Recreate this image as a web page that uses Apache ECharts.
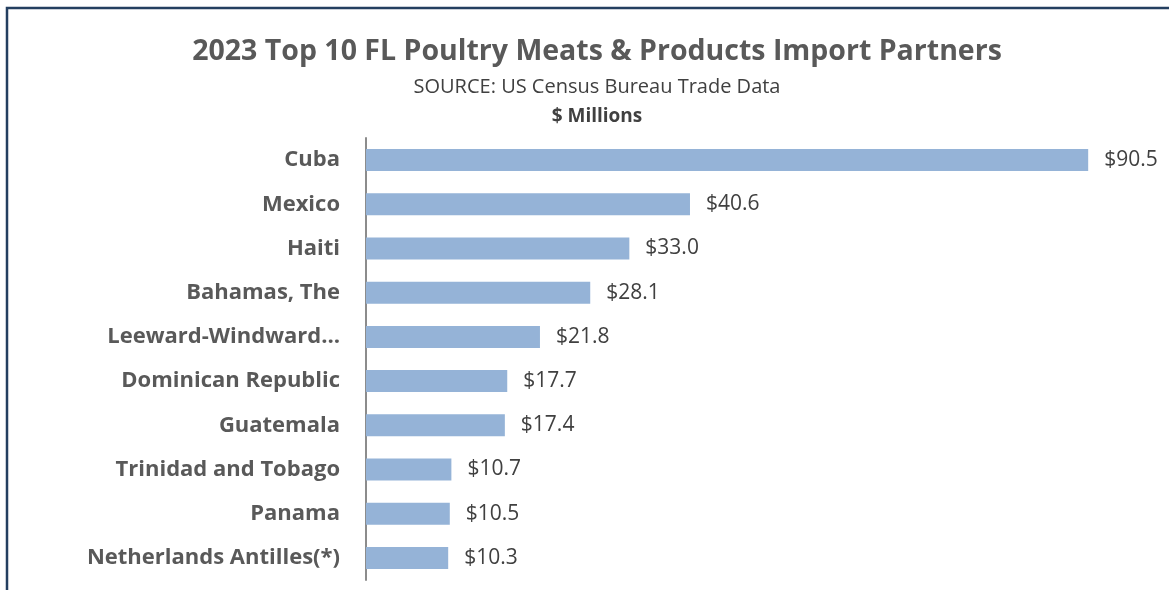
<!DOCTYPE html>
<html>
<head>
<meta charset="utf-8">
<script src="https://cdn.jsdelivr.net/npm/echarts@6/dist/echarts.min.js"></script>
<style>
  html, body { margin: 0; padding: 0; background: #fff; }
  #chart { width: 1169px; height: 590px; }
</style>
</head>
<body>
<div id="chart"></div>
<script>
var countries = ['Cuba', 'Mexico', 'Haiti', 'Bahamas, The', 'Leeward-Windward…',
  'Dominican Republic', 'Guatemala', 'Trinidad and Tobago', 'Panama', 'Netherlands Antilles(*)'];
var importValues = [90.5, 40.6, 33.0, 28.1, 21.8, 17.7, 17.4, 10.7, 10.5, 10.3];

var chartDom = document.getElementById('chart');
var myChart = echarts.init(chartDom);
var option;

option = {
  backgroundColor: '#fff',
  graphic: [
    {
      // frame of the chart area (cut off at the right and bottom)
      type: 'rect',
      shape: { x: 7, y: 8, width: 1200, height: 620 },
      style: { fill: 'none', stroke: '#243f60', lineWidth: 2.5 },
      silent: true
    }
  ],
  title: [
    {
      text: '2023 Top 10 FL Poultry Meats & Products Import Partners',
      left: 592, top: 32, textAlign: 'center',
      textStyle: { fontFamily: 'Open Sans', fontSize: 28.5, fontWeight: 'bold', color: '#595959' }
    },
    {
      text: 'SOURCE: US Census Bureau Trade Data',
      left: 592, top: 72, textAlign: 'center',
      textStyle: { fontFamily: 'Open Sans', fontSize: 20, fontWeight: 'normal', color: '#404040' }
    },
    {
      text: '$ Millions',
      left: 592, top: 102, textAlign: 'center',
      textStyle: { fontFamily: 'Open Sans', fontSize: 19, fontWeight: 'bold', color: '#404040' }
    }
  ],
  grid: {
    left: 366,
    right: 5,
    top: 138,
    bottom: 10
  },
  xAxis: {
    type: 'value',
    min: 0,
    max: 100,
    show: false
  },
  yAxis: {
    type: 'category',
    inverse: true,
    data: countries,
    axisLine: { show: true, lineStyle: { color: '#8c8c8c', width: 2 } },
    axisTick: { show: false },
    axisLabel: {
      margin: 26,
      fontFamily: 'Open Sans',
      fontSize: 22,
      fontWeight: 'bold',
      color: '#595959'
    }
  },
  series: [
    {
      name: 'Imports',
      type: 'bar',
      data: importValues,
      barWidth: 22,
      itemStyle: { color: '#95b3d7' },
      label: {
        show: true,
        position: 'right',
        distance: 16,
        fontFamily: 'Open Sans',
        fontSize: 21,
        color: '#404040',
        formatter: function (p) { return '$' + p.value.toFixed(1); }
      }
    }
  ]
};

option && myChart.setOption(option);
</script>
</body>
</html>
